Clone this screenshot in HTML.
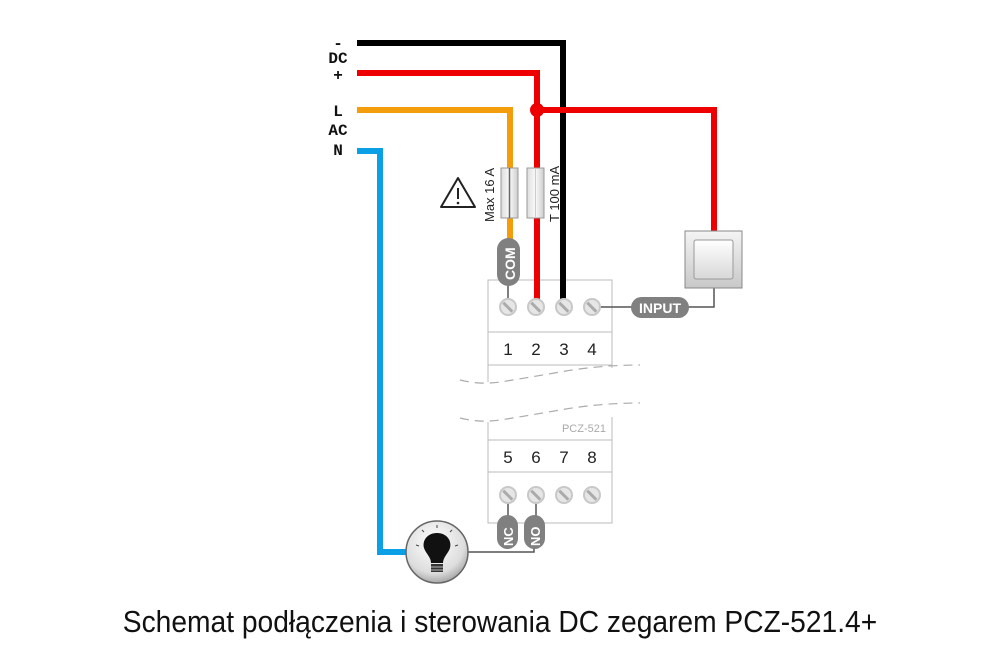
<!DOCTYPE html>
<html><head><meta charset="utf-8"><style>
body{margin:0;background:#fff;width:1000px;height:667px;overflow:hidden}
</style></head><body>
<svg width="1000" height="667" viewBox="0 0 1000 667" xmlns="http://www.w3.org/2000/svg">
<defs>
<radialGradient id="bulb" cx="0.45" cy="0.35" r="0.7"><stop offset="0" stop-color="#fff"/><stop offset="0.7" stop-color="#ddd"/><stop offset="1" stop-color="#999"/></radialGradient>
<linearGradient id="sw" x1="0" y1="0" x2="0" y2="1"><stop offset="0" stop-color="#f4f4f4"/><stop offset="1" stop-color="#c8c8c8"/></linearGradient>
<linearGradient id="sw2" x1="0" y1="0" x2="0" y2="1"><stop offset="0" stop-color="#fff"/><stop offset="1" stop-color="#d8d8d8"/></linearGradient>
<linearGradient id="fuse" x1="0" y1="0" x2="1" y2="0"><stop offset="0" stop-color="#ddd"/><stop offset="0.5" stop-color="#fafafa"/><stop offset="1" stop-color="#ccc"/></linearGradient>
<g id="term"><circle r="8" fill="#e6e6e6" stroke="#c8c8c8" stroke-width="2"/><line x1="-5" y1="-4" x2="4" y2="5" stroke="#aaa" stroke-width="2"/><line x1="-4" y1="-5" x2="5" y2="4" stroke="#aaa" stroke-width="1"/></g>
</defs>
<g font-family="Liberation Mono, monospace" font-weight="bold" font-size="16" text-anchor="middle" fill="#111">
<text x="338" y="48">-</text><text x="338" y="63">DC</text><text x="338" y="80">+</text>
<text x="338" y="116">L</text><text x="338" y="135">AC</text><text x="338" y="155">N</text>
</g>
<g fill="#fff" stroke="#bbb" stroke-width="1">
<path d="M488 382 V280 H612 V368"/>
<line x1="488" y1="332" x2="612" y2="332"/><line x1="488" y1="365" x2="612" y2="365"/>
<path d="M488 422 V523 H612 V417"/>
<line x1="488" y1="440" x2="612" y2="440"/><line x1="488" y1="472" x2="612" y2="472"/>
</g>
<g fill="none" stroke="#aaa" stroke-width="1.2" stroke-dasharray="9,6">
<path d="M460 380 Q480 385 500 382 T560 372 T640 365"/>
<path d="M460 418 Q480 423 500 420 T560 410 T640 403"/>
</g>
<g font-family="Liberation Sans, sans-serif" font-size="17" fill="#222" text-anchor="middle">
<text x="508" y="355">1</text><text x="536" y="355">2</text><text x="564" y="355">3</text><text x="592" y="355">4</text>
<text x="508" y="463">5</text><text x="536" y="463">6</text><text x="564" y="463">7</text><text x="592" y="463">8</text>
</g>
<text x="606" y="432" font-family="Liberation Sans, sans-serif" font-size="11" fill="#aaa" text-anchor="end">PCZ-521</text>
<g stroke="#555" stroke-width="1.5" fill="none">
<line x1="508" y1="280" x2="508" y2="300"/>
<line x1="600" y1="307" x2="640" y2="307"/>
<path d="M685 307 H714 V285"/>
<line x1="508" y1="500" x2="508" y2="520"/><line x1="536" y1="500" x2="536" y2="520"/>
<path d="M466 552 H534 V540"/>
</g>
<g fill="none" stroke-width="6" stroke-linejoin="miter">
<path d="M357 43 H563 V300" stroke="#000"/>
<path d="M357 110 H510 V250" stroke="#f39c0c"/>
<path d="M357 73 H537 V300" stroke="#ee0000"/>
<path d="M537 110 H714 V233" stroke="#ee0000"/>
<path d="M357 151 H380 V552 H410" stroke="#0ba0e6"/>
</g>
<circle cx="537" cy="110" r="7" fill="#ee0000"/>
<rect x="501" y="168" width="17" height="50" fill="url(#fuse)" stroke="#999"/>
<line x1="509.5" y1="168" x2="509.5" y2="218" stroke="#666" stroke-width="1.5"/>
<rect x="527" y="168" width="17" height="50" fill="url(#fuse)" stroke="#999"/>
<line x1="535.5" y1="168" x2="535.5" y2="218" stroke="#ccc" stroke-width="1"/>
<g font-family="Liberation Sans, sans-serif" font-size="13" fill="#222">
<text transform="translate(494,222) rotate(-90)">Max 16 A</text>
<text transform="translate(559,222) rotate(-90)">T 100 mA</text>
</g>
<path d="M458 178 L475 207 H441 Z" fill="#fff" stroke="#222" stroke-width="2" stroke-linejoin="round"/>
<line x1="458" y1="188" x2="458" y2="199" stroke="#222" stroke-width="2"/><circle cx="458" cy="203" r="1.3" fill="#222"/>
<rect x="497" y="238" width="23" height="48" rx="11.5" fill="#808080"/>
<text transform="translate(515,280) rotate(-90)" font-family="Liberation Sans, sans-serif" font-weight="bold" font-size="14" fill="#fff">COM</text>
<use href="#term" x="508" y="307"/><use href="#term" x="536" y="307"/><use href="#term" x="564" y="307"/><use href="#term" x="592" y="307"/>
<use href="#term" x="508" y="495"/><use href="#term" x="536" y="495"/><use href="#term" x="564" y="495"/><use href="#term" x="592" y="495"/>
<rect x="631" y="297" width="58" height="21" rx="10.5" fill="#808080"/>
<text x="660" y="313" font-family="Liberation Sans, sans-serif" font-weight="bold" font-size="14" fill="#fff" text-anchor="middle">INPUT</text>
<rect x="685" y="231" width="57" height="57" fill="url(#sw)" stroke="#888"/>
<rect x="694" y="240" width="39" height="39" rx="2" fill="url(#sw2)" stroke="#999"/>
<rect x="497" y="515" width="21" height="34" rx="10.5" fill="#808080"/>
<text transform="translate(513,546) rotate(-90)" font-family="Liberation Sans, sans-serif" font-weight="bold" font-size="13" fill="#fff">NC</text>
<rect x="524" y="515" width="21" height="34" rx="10.5" fill="#808080"/>
<text transform="translate(540,546) rotate(-90)" font-family="Liberation Sans, sans-serif" font-weight="bold" font-size="13" fill="#fff">NO</text>
<circle cx="437" cy="552" r="31" fill="url(#bulb)" stroke="#666" stroke-width="1.5"/>
<path d="M437 533 C427 533 422 541 424 548 C426 554 431 557 431 563 H443 C443 557 448 554 450 548 C452 541 447 533 437 533 Z" fill="#111"/>
<rect x="431" y="564" width="12" height="8" fill="#333"/>
<line x1="431" y1="567" x2="443" y2="567" stroke="#bbb"/><line x1="431" y1="570" x2="443" y2="570" stroke="#bbb"/>
<g stroke="#444" stroke-width="1"><line x1="437" y1="525" x2="437" y2="528"/><line x1="422" y1="530" x2="424" y2="532"/><line x1="452" y1="530" x2="450" y2="532"/><line x1="416" y1="545" x2="419" y2="546"/><line x1="458" y1="545" x2="455" y2="546"/></g>
<text x="500" y="632" font-family="Liberation Sans, sans-serif" font-size="31" fill="#111" text-anchor="middle" transform="translate(500,0) scale(0.82,1) translate(-500,0)" textLength="920" lengthAdjust="spacingAndGlyphs">Schemat podłączenia i sterowania DC zegarem PCZ-521.4+</text>
</svg>
</body></html>
